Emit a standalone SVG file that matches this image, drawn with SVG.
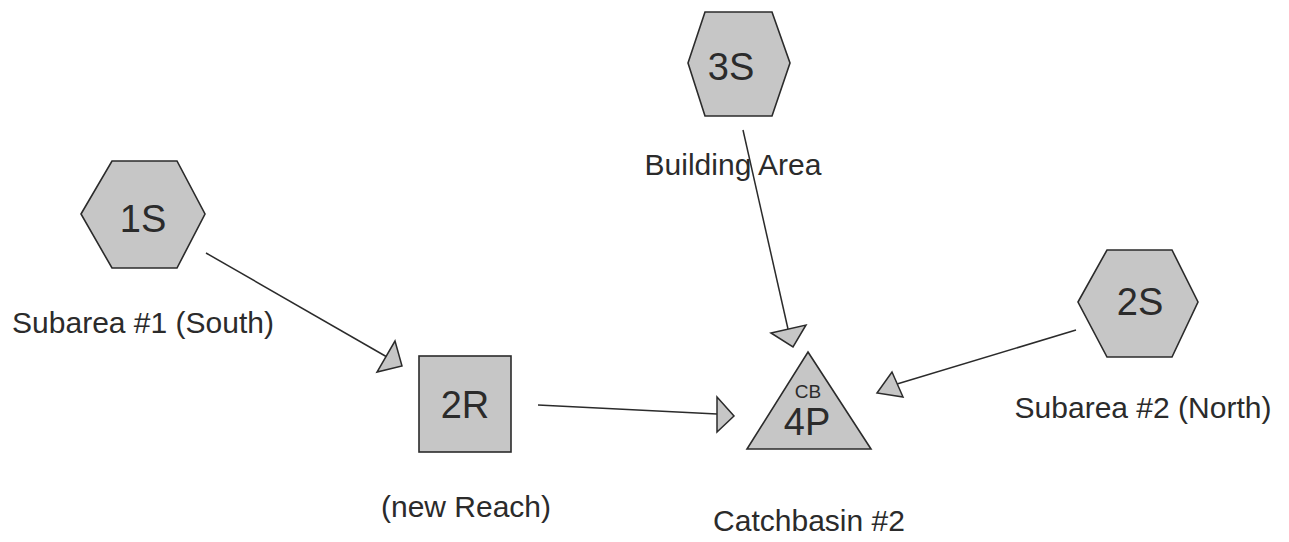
<svg xmlns="http://www.w3.org/2000/svg" width="1289" height="542" viewBox="0 0 1289 542">
<style>
.shape{fill:#c6c6c6;stroke:#2b2b2b;stroke-width:1.6;stroke-linejoin:miter}
.id{font-family:"Liberation Sans",Arial,sans-serif;font-size:38px;fill:#2b2b2b;text-anchor:middle}
.small{font-family:"Liberation Sans",Arial,sans-serif;font-size:19px;fill:#2b2b2b;text-anchor:middle}
.label{font-family:"Liberation Sans",Arial,sans-serif;font-size:30px;fill:#2b2b2b;text-anchor:middle}
.edge{stroke:#2b2b2b;stroke-width:1.5;fill:none}
.head{fill:#c6c6c6;stroke:#2b2b2b;stroke-width:1.5;stroke-linejoin:miter}
</style>
<rect width="1289" height="542" fill="#ffffff"/>
<g id="connectors">
<line class="edge" x1="206" y1="253" x2="387" y2="357"/>
<polygon class="head" points="395,341 402,366 377,372"/>
<line class="edge" x1="538" y1="405" x2="717" y2="414"/>
<polygon class="head" points="717,397 734,416 717,432"/>
<line class="edge" x1="743" y1="130" x2="788" y2="329"/>
<polygon class="head" points="771,333 806,325 793,347"/>
<line class="edge" x1="1076" y1="330" x2="897" y2="384"/>
<polygon class="head" points="892,372 903,397 877,393"/>
</g>
<g id="node-1S">
<polygon class="shape" points="81,214 112,161 177,161 205,214 177,268 112,268"/>
<text class="id" x="143" y="232">1S</text>
<text class="label" x="143" y="333">Subarea #1 (South)</text>
</g>
<g id="node-3S">
<polygon class="shape" points="688,63 705,12 772,12 790,63 772,116 705,116"/>
<text class="id" x="731" y="80">3S</text>
<text class="label" x="733" y="175">Building Area</text>
</g>
<g id="node-2S">
<polygon class="shape" points="1078,302 1107,250 1172,250 1198,302 1172,357 1107,357"/>
<text class="id" x="1140" y="315">2S</text>
<text class="label" x="1143" y="418">Subarea #2 (North)</text>
</g>
<g id="node-2R">
<rect class="shape" x="419" y="356" width="92" height="96"/>
<text class="id" x="465" y="418">2R</text>
<text class="label" x="466" y="517">(new Reach)</text>
</g>
<g id="node-4P">
<polygon class="shape" points="808,352 871,449 747,449"/>
<text class="small" x="808" y="398">CB</text>
<text class="id" x="807" y="435">4P</text>
<text class="label" x="809" y="531">Catchbasin #2</text>
</g>
</svg>
